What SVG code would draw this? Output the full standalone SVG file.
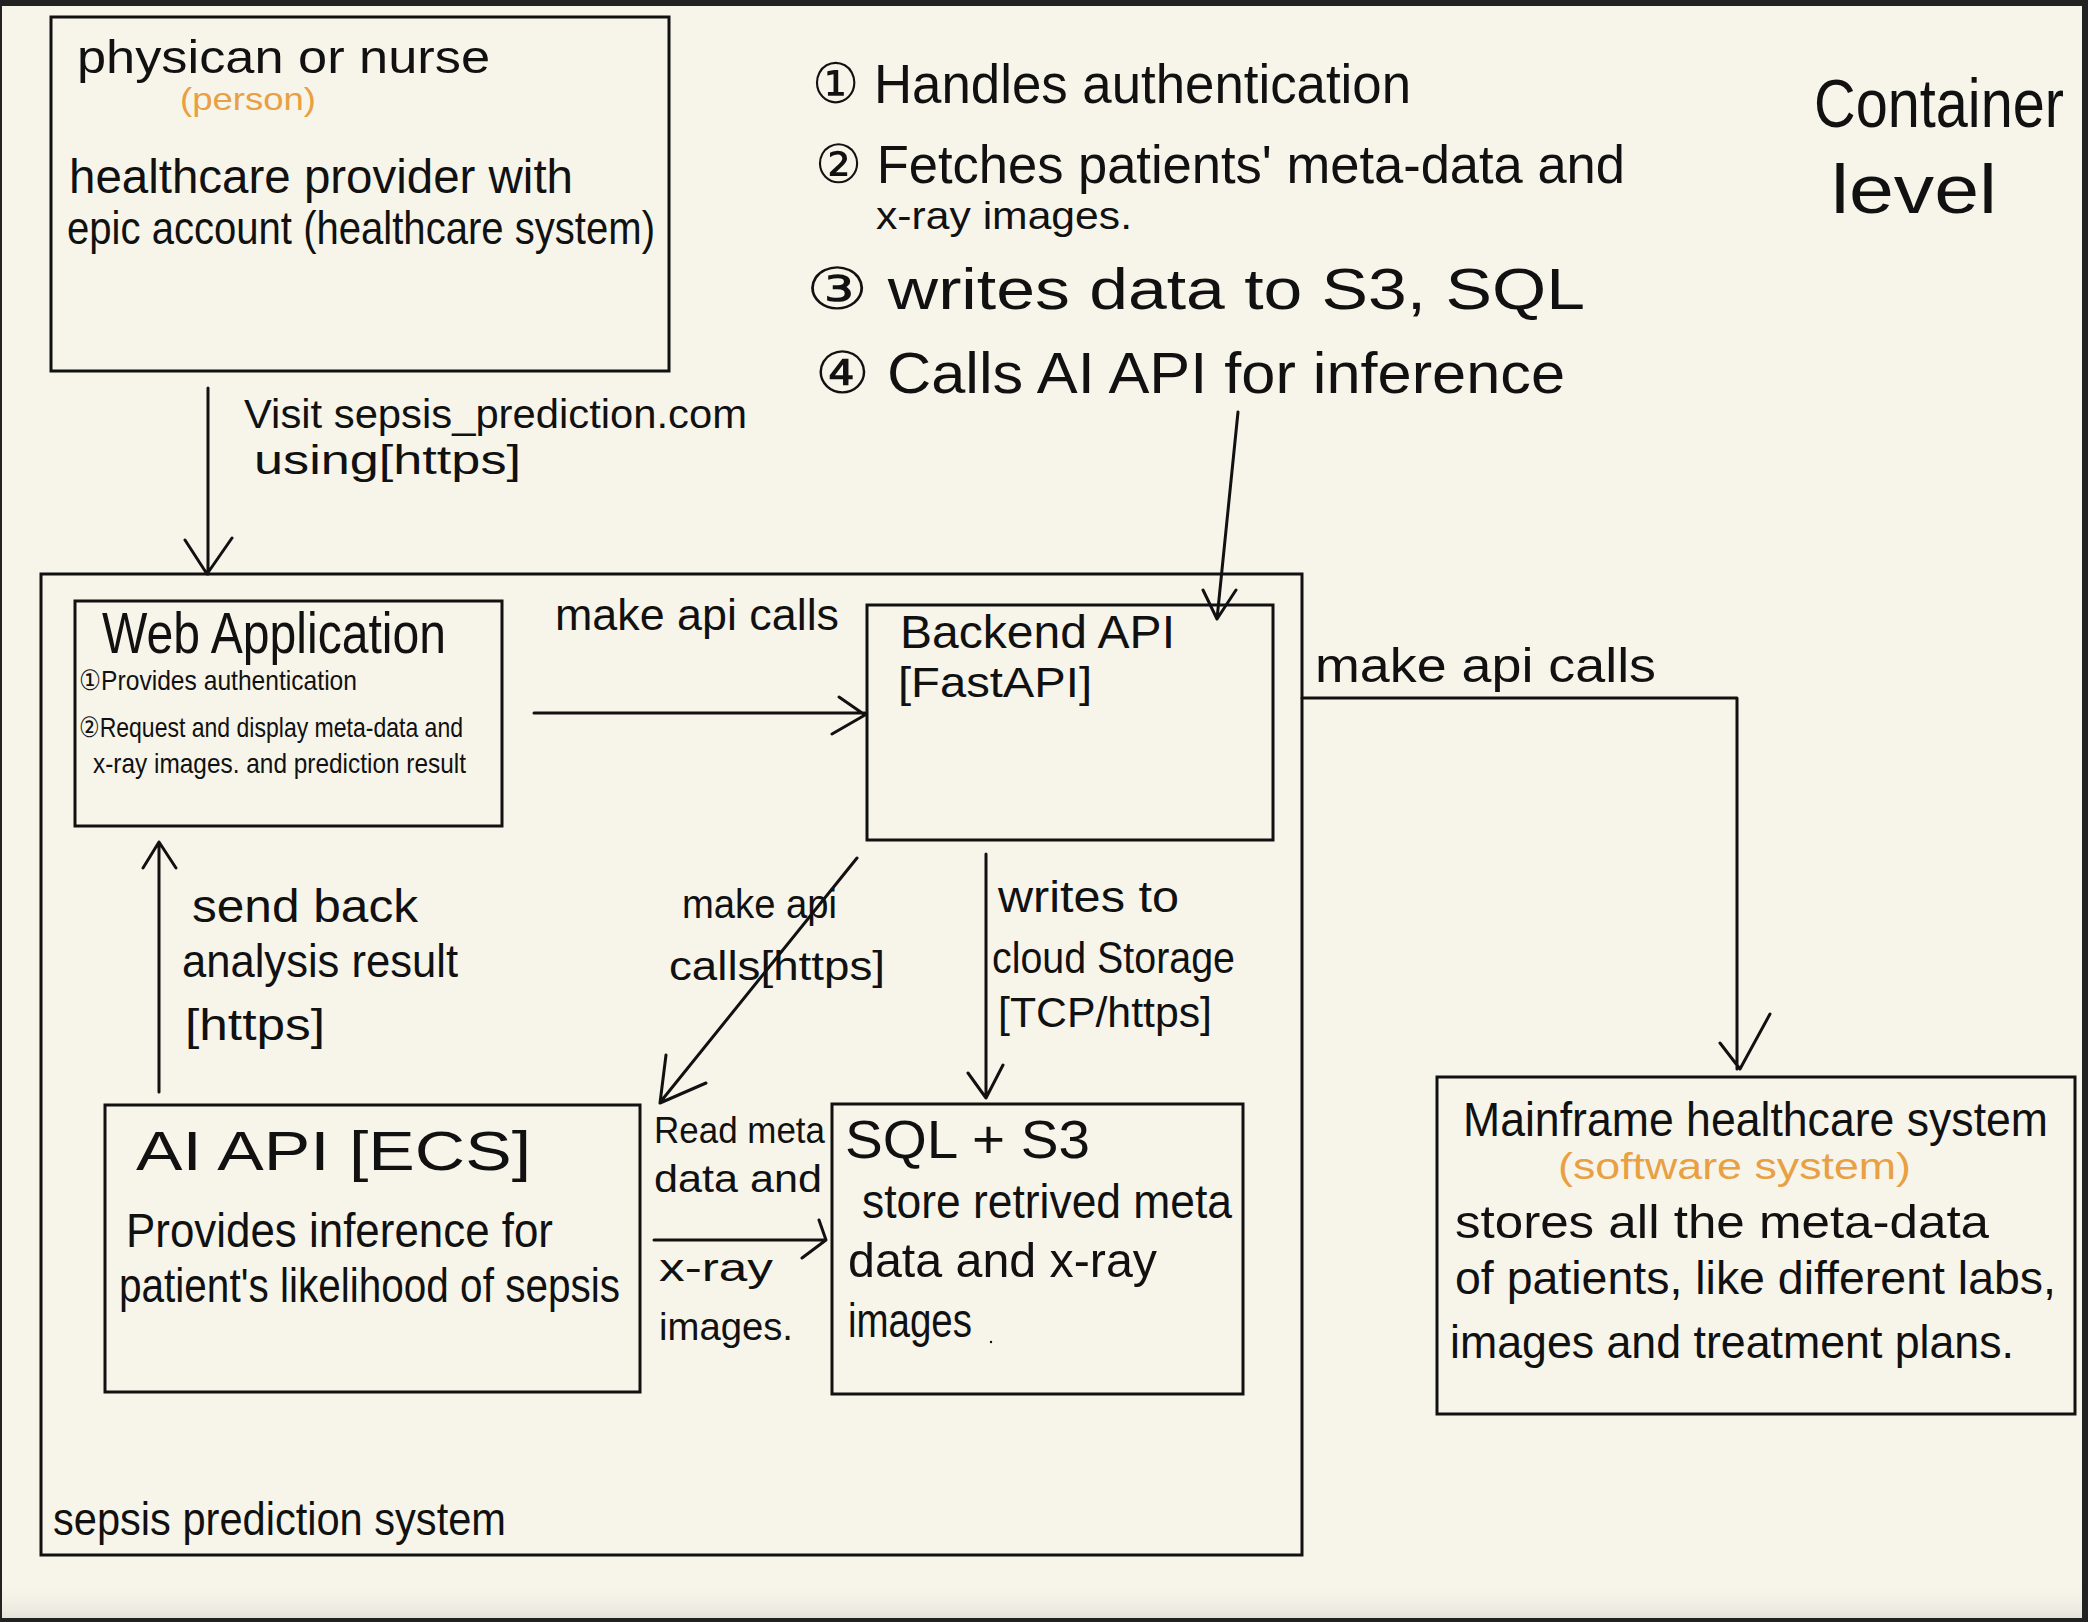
<svg xmlns="http://www.w3.org/2000/svg" width="2088" height="1622" viewBox="0 0 2088 1622">
<defs>
<linearGradient id="shade" x1="0" y1="0" x2="0" y2="1">
<stop offset="0" stop-color="#f7f5ea" stop-opacity="0"/>
<stop offset="1" stop-color="#e6e4da"/>
</linearGradient>
</defs>
<style>
.bg{fill:#f7f5ea}
.box{fill:none;stroke:#111;stroke-width:3}
.ln{fill:none;stroke:#111;stroke-width:3;stroke-linecap:round;stroke-linejoin:round}
text{font-family:"Liberation Sans","DejaVu Sans",sans-serif;fill:#111}
.or{fill:#e8a043}
</style>
<rect x="0" y="0" width="2088" height="1622" fill="#222"/>
<rect class="bg" x="2" y="6" width="2080" height="1612"/>
<rect x="2" y="1580" width="2080" height="38" fill="url(#shade)"/>

<g id="title">
<text x="1814" y="127" font-size="68" textLength="250" lengthAdjust="spacingAndGlyphs">Container</text>
<text x="1831" y="213" font-size="68" textLength="166" lengthAdjust="spacingAndGlyphs">level</text>
</g>

<g id="legend">
<text x="812" y="103" font-size="56" textLength="599" lengthAdjust="spacingAndGlyphs">① Handles  authentication</text>
<text x="815" y="183" font-size="54" textLength="810" lengthAdjust="spacingAndGlyphs">② Fetches patients' meta-data and</text>
<text x="876" y="229" font-size="38" textLength="256" lengthAdjust="spacingAndGlyphs">x-ray images.</text>
<text x="806" y="309" font-size="58" textLength="779" lengthAdjust="spacingAndGlyphs">③ writes  data  to  S3, SQL</text>
<text x="815" y="393" font-size="58" textLength="750" lengthAdjust="spacingAndGlyphs">④ Calls  AI  API  for  inference</text>
</g>

<g id="person">
<rect class="box" x="51" y="17" width="618" height="354"/>
<text x="77" y="73" font-size="46" textLength="413" lengthAdjust="spacingAndGlyphs">physican  or  nurse</text>
<text class="or" x="180" y="110" font-size="32" textLength="136" lengthAdjust="spacingAndGlyphs">(person)</text>
<text x="69" y="193" font-size="48" textLength="504" lengthAdjust="spacingAndGlyphs">healthcare  provider  with</text>
<text x="67" y="244" font-size="46" textLength="588" lengthAdjust="spacingAndGlyphs">epic  account  (healthcare system)</text>
</g>

<g id="sepsis-system">
<rect class="box" x="41" y="574" width="1261" height="981"/>
<text x="53" y="1535" font-size="46" textLength="453" lengthAdjust="spacingAndGlyphs">sepsis  prediction  system</text>
</g>

<g id="web-app">
<rect class="box" x="75" y="601" width="427" height="225"/>
<text x="102" y="653" font-size="58" textLength="344" lengthAdjust="spacingAndGlyphs">Web Application</text>
<text x="79" y="690" font-size="28" textLength="278" lengthAdjust="spacingAndGlyphs">①Provides  authentication</text>
<text x="79" y="737" font-size="28" textLength="384" lengthAdjust="spacingAndGlyphs">②Request and display meta-data and</text>
<text x="93" y="773" font-size="28" textLength="373" lengthAdjust="spacingAndGlyphs">x-ray images. and prediction result</text>
</g>

<g id="backend-api">
<rect class="box" x="867" y="605" width="406" height="235"/>
<text x="900" y="648" font-size="46" textLength="275" lengthAdjust="spacingAndGlyphs">Backend  API</text>
<text x="898" y="697" font-size="42" textLength="194" lengthAdjust="spacingAndGlyphs">[FastAPI]</text>
</g>

<g id="ai-api">
<rect class="box" x="105" y="1105" width="535" height="287"/>
<text x="136" y="1170" font-size="56" textLength="395" lengthAdjust="spacingAndGlyphs">AI   API  [ECS]</text>
<text x="126" y="1247" font-size="48" textLength="427" lengthAdjust="spacingAndGlyphs">Provides  inference  for</text>
<text x="119" y="1302" font-size="48" textLength="501" lengthAdjust="spacingAndGlyphs">patient's likelihood of sepsis</text>
</g>

<g id="sql-s3">
<rect class="box" x="832" y="1104" width="411" height="290"/>
<text x="845" y="1158" font-size="54" textLength="245" lengthAdjust="spacingAndGlyphs">SQL  +  S3</text>
<text x="862" y="1218" font-size="48" textLength="370" lengthAdjust="spacingAndGlyphs">store  retrived  meta</text>
<text x="848" y="1277" font-size="48" textLength="309" lengthAdjust="spacingAndGlyphs">data  and  x-ray</text>
<text x="848" y="1337" font-size="48" textLength="124" lengthAdjust="spacingAndGlyphs">images</text>
<circle cx="991" cy="1342" r="1.2" fill="#111"/>
</g>

<g id="mainframe">
<rect class="box" x="1437" y="1077" width="638" height="337"/>
<text x="1463" y="1136" font-size="48" textLength="585" lengthAdjust="spacingAndGlyphs">Mainframe  healthcare  system</text>
<text class="or" x="1558" y="1179" font-size="36" textLength="353" lengthAdjust="spacingAndGlyphs">(software  system)</text>
<text x="1455" y="1238" font-size="46" textLength="534" lengthAdjust="spacingAndGlyphs">stores  all  the  meta-data</text>
<text x="1455" y="1294" font-size="46" textLength="601" lengthAdjust="spacingAndGlyphs">of  patients, like different labs,</text>
<text x="1450" y="1358" font-size="46" textLength="564" lengthAdjust="spacingAndGlyphs">images  and  treatment  plans.</text>
</g>

<g id="connectors">
<!-- person -> web app -->
<path class="ln" d="M208 388 L208 574 M185 540 L207 574 L232 538"/>
<text x="244" y="428" font-size="40" textLength="503" lengthAdjust="spacingAndGlyphs">Visit  sepsis_prediction.com</text>
<text x="254" y="474" font-size="40" textLength="267" lengthAdjust="spacingAndGlyphs">using[https]</text>

<!-- legend -> backend -->
<path class="ln" d="M1238 412 L1217 619 M1203 590 L1217 619 L1236 590"/>

<!-- web app -> backend -->
<path class="ln" d="M534 713 L865 713 M839 697 L865 715 L832 734"/>
<text x="555" y="630" font-size="44" textLength="284" lengthAdjust="spacingAndGlyphs">make  api  calls</text>

<!-- backend -> AI API (diagonal) -->
<path class="ln" d="M857 858 L662 1100 M666 1055 L660 1103 L706 1083"/>
<text x="682" y="918" font-size="40" textLength="155" lengthAdjust="spacingAndGlyphs">make  api</text>
<text x="669" y="980" font-size="40" textLength="216" lengthAdjust="spacingAndGlyphs">calls[https]</text>

<!-- backend -> SQL -->
<path class="ln" d="M986 854 L986 1098 M968 1073 L986 1098 L1003 1065"/>
<text x="998" y="912" font-size="44" textLength="181" lengthAdjust="spacingAndGlyphs">writes  to</text>
<text x="992" y="973" font-size="44" textLength="243" lengthAdjust="spacingAndGlyphs">cloud  Storage</text>
<text x="998" y="1027" font-size="42" textLength="214" lengthAdjust="spacingAndGlyphs">[TCP/https]</text>

<!-- AI API -> SQL -->
<path class="ln" d="M654 1240 L826 1240 M819 1220 L826 1240 L802 1258"/>
<text x="654" y="1143" font-size="36" textLength="171" lengthAdjust="spacingAndGlyphs">Read meta</text>
<text x="654" y="1192" font-size="38" textLength="168" lengthAdjust="spacingAndGlyphs">data  and</text>
<text x="659" y="1281" font-size="38" textLength="114" lengthAdjust="spacingAndGlyphs">x-ray</text>
<text x="659" y="1340" font-size="38" textLength="134" lengthAdjust="spacingAndGlyphs">images.</text>

<!-- AI API -> web app -->
<path class="ln" d="M159 1092 L159 842 M143 868 L159 842 L176 868"/>
<text x="192" y="922" font-size="46" textLength="226" lengthAdjust="spacingAndGlyphs">send  back</text>
<text x="182" y="977" font-size="46" textLength="276" lengthAdjust="spacingAndGlyphs">analysis  result</text>
<text x="185" y="1040" font-size="44" textLength="140" lengthAdjust="spacingAndGlyphs">[https]</text>

<!-- system -> mainframe -->
<path class="ln" d="M1302 698 L1737 698 L1737 1069 M1720 1043 L1740 1069 L1770 1014"/>
<text x="1315" y="682" font-size="48" textLength="341" lengthAdjust="spacingAndGlyphs">make  api  calls</text>
</g>
</svg>
